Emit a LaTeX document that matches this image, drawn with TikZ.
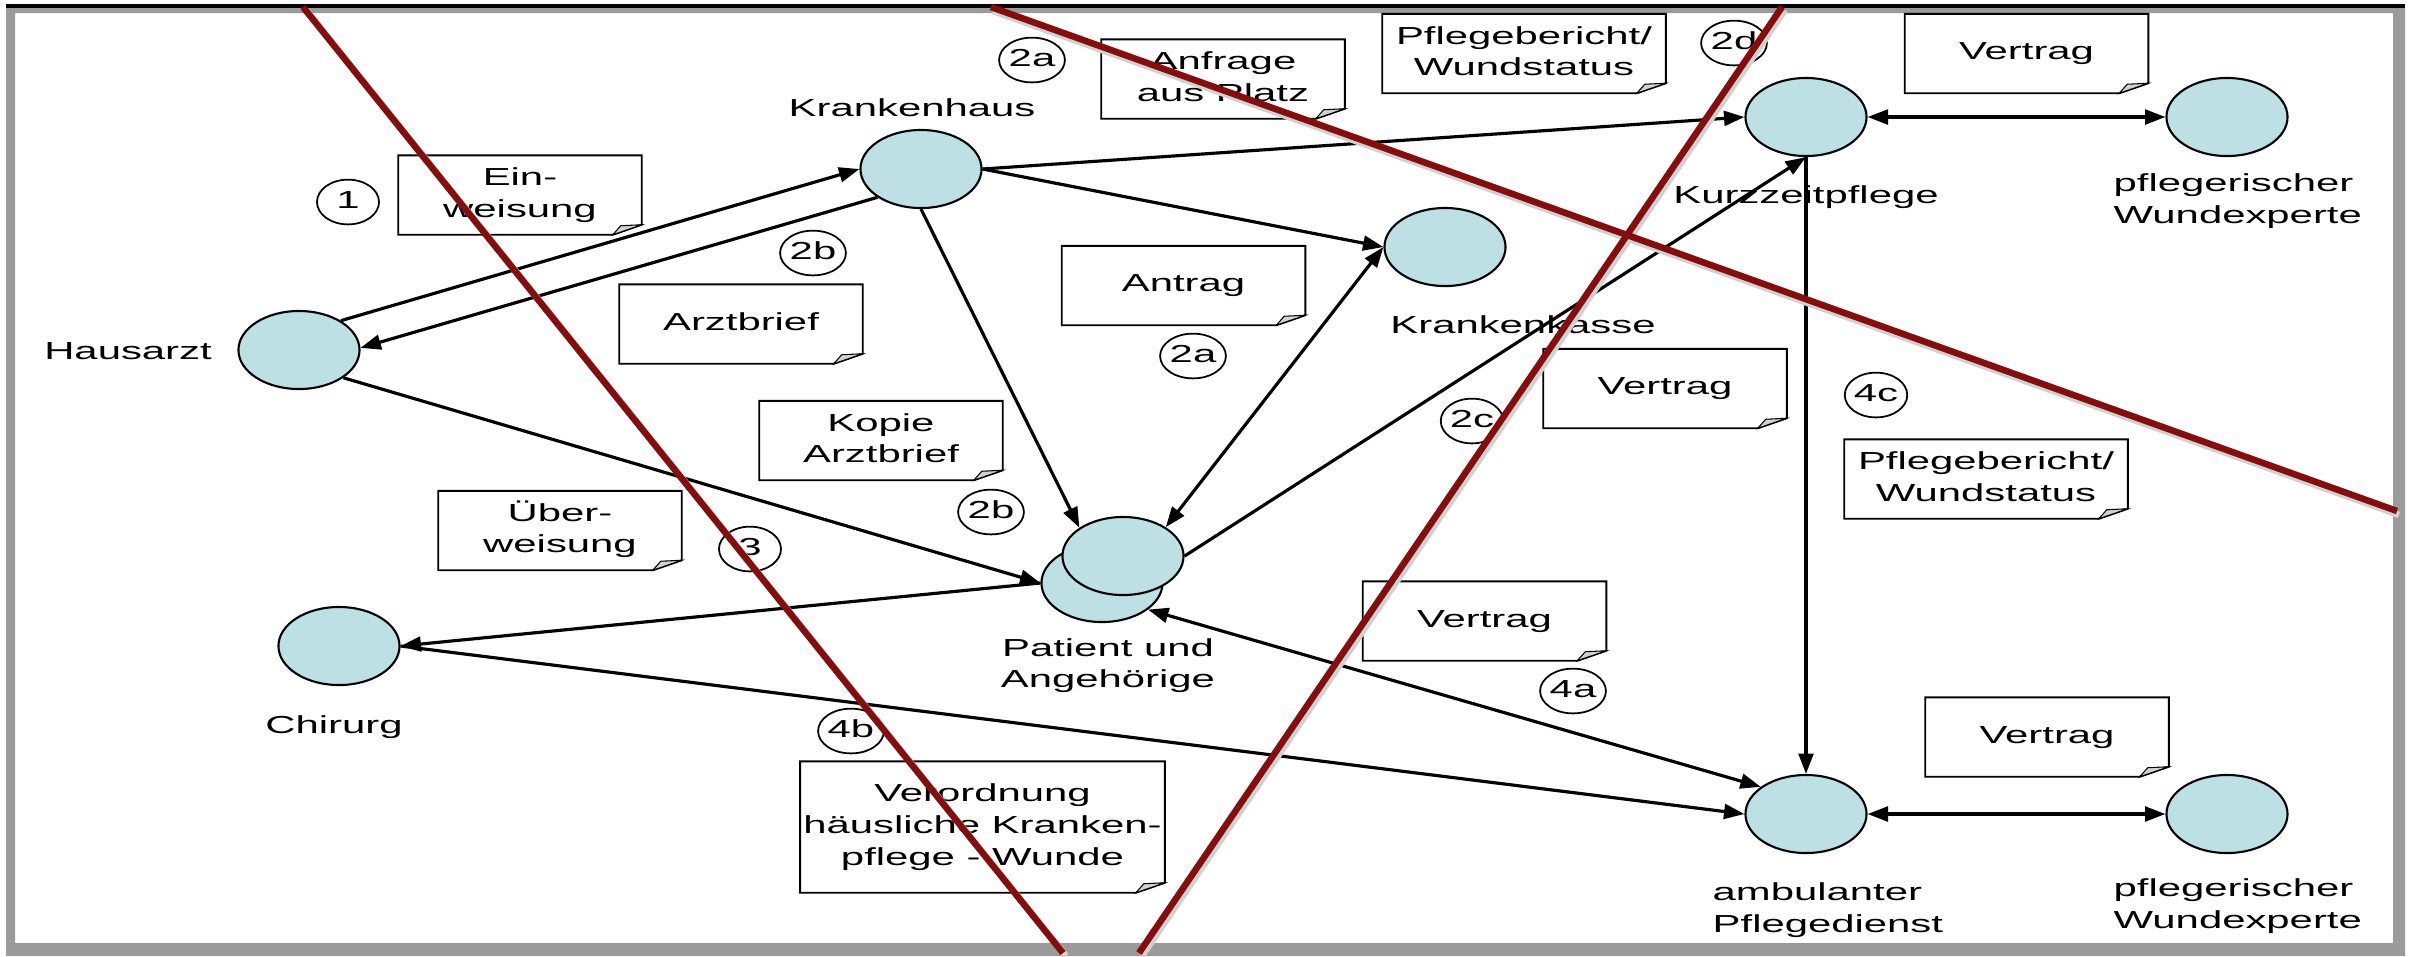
\documentclass[tikz,border=0pt]{standalone}
\usepackage{fontspec}
\usepackage{graphicx}
\setmainfont{Liberation Sans}
\usetikzlibrary{shapes.geometric,arrows.meta,calc}
\newcommand{\stx}[1]{\scalebox{1.7}[1]{\begin{tabular}{@{}c@{}}#1\end{tabular}}}
\newcommand{\stl}[1]{\scalebox{1.7}[1]{\begin{tabular}{@{}l@{}}#1\end{tabular}}}
\definecolor{nodefill}{RGB}{189,224,228}
\definecolor{redline}{RGB}{135,12,12}
\definecolor{framegray}{RGB}{155,155,155}
\begin{document}
\begin{tikzpicture}[x=0.01cm,y=-0.01cm,
  txt/.style={font=\fontsize{7}{9}\selectfont},
  actor/.style={ellipse, draw=black, line width=0.6pt, fill=nodefill, minimum width=1.21cm, minimum height=0.78cm, inner sep=0pt},
  lbl/.style={txt, inner sep=0pt},
  num/.style={txt, ellipse, draw=black, line width=0.5pt, fill=white, minimum width=0.62cm, minimum height=0.40cm, inner sep=0pt},
  note/.style={txt, inner sep=0pt, minimum width=2.42cm, minimum height=0.78cm},
  notewide/.style={note, minimum width=2.82cm},
  noteframe/.style={draw=black, line width=0.55pt, line join=miter},
  fold/.style={draw=black, line width=0.3pt, fill=gray!35},
  conn/.style={line width=0.9pt, -{Triangle[length=5.8pt,width=4.2pt]}},
  conn2/.style={line width=0.9pt, {Triangle[length=5.8pt,width=4.2pt]}-{Triangle[length=5.8pt,width=4.2pt]}},
  border/.style={line width=1.85pt, redline},
  bshadow/.style={line width=1.85pt, black!18},
]
\useasboundingbox (0,0) rectangle (2417,956);
\fill[white] (0,0) rectangle (2417,956);
% frame
\fill[framegray, even odd rule] (6,7) rectangle (2405,956) (15,13) rectangle (2393,943);
\fill[black] (6,4) rectangle (2405,7.5);

% actors
\node[actor] (H) at (299,350) {};
\node[actor] (K) at (921,169) {};
\node[actor] (KK) at (1445,247) {};
\node[actor] (Kz) at (1806,117) {};
\node[actor] (W1) at (2227,117) {};
\node[actor] (C) at (339,646) {};
\node[actor] (Pl) at (1102,583) {};
\node[actor] (Pu) at (1123,556) {};
\node[actor] (A) at (1806,814) {};
\node[actor] (W2) at (2227,814) {};

% actor labels
\node[lbl] (tH) at (128,352.7) {\stx{Hausarzt}};
\node[lbl] (tK) at (912,109.7) {\stx{Krankenhaus}};
\node[lbl] (tKK) at (1523,326.7) {\stx{Krankenkasse}};
\node[lbl] (tKz) at (1806,196.7) {\stx{Kurzzeitpflege}};
\node[lbl,anchor=west] (tW1) at (2113,201.2) {\stl{pflegerischer\\Wundexperte}};
\node[lbl] (tC) at (334,726.7) {\stx{Chirurg}};
\node[lbl] (tP) at (1108,665.7) {\stx{Patient und\\Angehörige}};
\node[lbl,anchor=west] (tA) at (1712,910.2) {\stl{ambulanter\\Pflegedienst}};
\node[lbl,anchor=west] (tW2) at (2113,906.2) {\stl{pflegerischer\\Wundexperte}};

% notes
\node[note] (n1) at (520,195) {\stx{Ein-\\weisung}};
\node[note] (n2) at (741,324) {\stx{Arztbrief}};
\node[note] (n3) at (881,440.5) {\stx{Kopie\\Arztbrief}};
\node[note] (n4) at (1223,79) {\stx{Anfrage\\aus Platz}};
\node[note] (n5) at (1183.5,285.5) {\stx{Antrag}};
\node[notewide] (n6) at (1524,53.5) {\stx{Pflegebericht/\\Wundstatus}};
\node[note] (n7) at (2026.5,53.5) {\stx{Vertrag}};
\node[note] (n8) at (1665,388.5) {\stx{Vertrag}};
\node[notewide] (n9) at (1986,479) {\stx{Pflegebericht/\\Wundstatus}};
\node[note] (n10) at (560,530.5) {\stx{Über-\\weisung}};
\node[note] (n11) at (1484.5,621) {\stx{Vertrag}};
\node[note, minimum width=3.63cm, minimum height=1.30cm] (n12) at (982.5,827) {\stx{Verordnung\\häusliche Kranken-\\pflege - Wunde}};
\node[note] (n13) at (2047,737) {\stx{Vertrag}};
\foreach \n in {n1,n2,n3,n4,n5,n6,n7,n8,n9,n10,n11,n12,n13} {
  \draw[noteframe] (\n.north west) -- (\n.north east) -- ($(\n.south east)+(0,-10)$) -- ($(\n.south east)+(-29,0)$) -- (\n.south west) -- cycle;
  \filldraw[fold] ($(\n.south east)+(0,-10)$) -- ($(\n.south east)+(-29,0)$) -- ($(\n.south east)+(-21,-9)$) -- cycle;
}

% step numbers
\node[num] (s1) at (348,202) {\stx{1}};
\node[num] (s2a) at (1032,60) {\stx{2a}};
\node[num] (s2b) at (813,253) {\stx{2b}};
\node[num] (s2a2) at (1193,356) {\stx{2a}};
\node[num] (s2c) at (1472,421) {\stx{2c}};
\node[num] (s2d) at (1734,43) {\stx{2d}};
\node[num] (s2b2) at (991,512) {\stx{2b}};
\node[num] (s3) at (750,549) {\stx{3}};
\node[num] (s4a) at (1573,691) {\stx{4a}};
\node[num] (s4b) at (851,731) {\stx{4b}};
\node[num] (s4c) at (1876,395) {\stx{4c}};

% connectors
\draw[conn] (H.35) -- (K.180);
\draw[conn] (K.213) -- (H.2);
\draw[conn] (H.-32) -- (Pl.west);
\draw[conn] (Pl.west) -- (C.east);
\draw[conn] (C.east) -- (A.west);
\draw[conn] (K.south) -- (Pu.147);
\draw[conn2] (KK.west) -- (Pu.34);
\draw[conn] (K.east) -- (KK.west);
\draw[conn] (K.east) -- (Kz.west);
\draw[conn] (Pu.east) -- (Kz.south);
\draw[conn2] (Kz.east) -- (W1.west);
\draw[conn] (Kz.south) -- (A.north);
\draw[conn2] (Pl.-30) -- (A.149);
\draw[conn2] (A.east) -- (W2.west);

% red dividing lines
\coordinate (r1a) at (303,7);
\coordinate (r1b) at (1063,953);
\coordinate (r2a) at (1139,953);
\coordinate (r2b) at (1782,7);
\coordinate (r3a) at (991,7);
\coordinate (r3b) at (2397,511);
\draw[bshadow] ($(r1a)+(3,3)$) -- ($(r1b)+(3,3)$);
\draw[bshadow] ($(r2a)+(3,3)$) -- ($(r2b)+(3,3)$);
\draw[bshadow] ($(r3a)+(2,4)$) -- ($(r3b)+(2,4)$);
\draw[border] (r1a) -- (r1b);
\draw[border] (r2a) -- (r2b);
\draw[border] (r3a) -- (r3b);
\end{tikzpicture}
\end{document}
